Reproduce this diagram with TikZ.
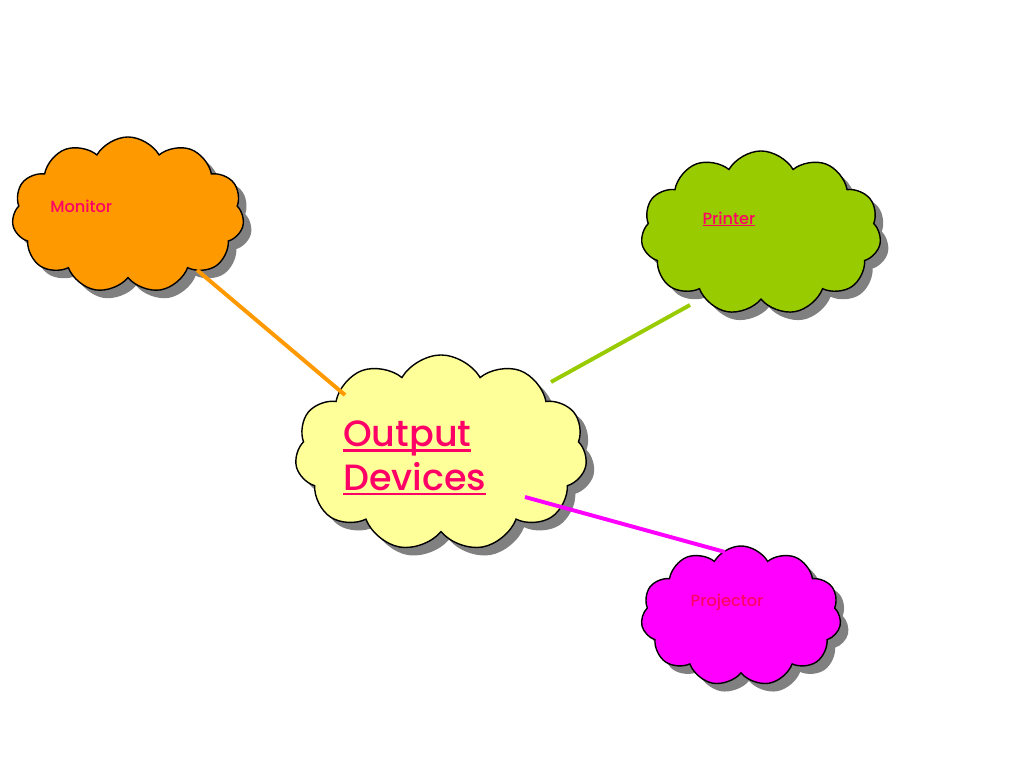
\documentclass[tikz,border=0pt]{standalone}
\usepackage{fontspec}
\setmainfont{Poppins}[BoldFont={Poppins Medium}]
\usetikzlibrary{shapes.symbols,shadows}

\definecolor{monitorc}{HTML}{FF9900}
\definecolor{printerc}{HTML}{99CC00}
\definecolor{outputc}{HTML}{FFFF99}
\definecolor{projc}{HTML}{FF00FF}
\definecolor{labelc}{HTML}{FF0066}

% underline with a rule of given thickness
\newcommand{\ulword}[2]{\setbox0\hbox{#2}\rlap{\copy0}\raisebox{-0.14em}{\rule{\wd0}{#1}}}

\tikzset{
  puff/.style={cloud, cloud puffs=11, cloud puff arc=120, cloud ignores aspect,
    draw=black, line width=1pt, inner sep=0pt,
    drop shadow={shadow xshift=0.2cm, shadow yshift=-0.2cm, fill=black!50, opacity=1}},
  link/.style={line width=2.8pt},
  tag/.style={text=labelc, font=\bfseries\fontsize{11.5}{14}\selectfont, inner sep=0pt}
}

\begin{document}
\begin{tikzpicture}[x=0.025cm, y=-0.025cm]
  \useasboundingbox[fill=white] (0,0) rectangle (1024,768);

  % the four clouds
  \node[puff, fill=monitorc, minimum width=5.8cm, minimum height=3.9cm] (monitor) at (128,215) {};
  \node[puff, fill=printerc, minimum width=6.0cm, minimum height=4.1cm] (printer) at (761,233) {};
  \node[puff, fill=outputc, minimum width=7.3cm, minimum height=4.9cm] (output) at (441,453) {};
  \node[puff, fill=projc, minimum width=5.0cm, minimum height=3.5cm] (projector) at (741,616) {};

  % connector ends
  \coordinate (m1) at (197,270);
  \coordinate (m2) at (345,395);
  \coordinate (p1) at (690,305);
  \coordinate (p2) at (551,382);
  \coordinate (j1) at (525,497);
  \coordinate (j2) at (725,552);

  \draw[link, monitorc] (m1) -- (m2);
  \draw[link, printerc] (p1) -- (p2);
  \draw[link, projc] (j1) -- (j2);

  % texts
  \node[tag, anchor=west] (monitortext) at (50,206) {Monitor};
  \node[tag] (printertext) at (729,219) {\ulword{0.8pt}{Printer}};
  \node[tag] (projectortext) at (727,602) {Projector};
  \node[tag, anchor=west, align=left, font=\bfseries\fontsize{26}{31}\selectfont] (outputtext) at (343,458)
    {\ulword{1.8pt}{Output}\\\ulword{1.8pt}{Devices}};
\end{tikzpicture}
\end{document}
